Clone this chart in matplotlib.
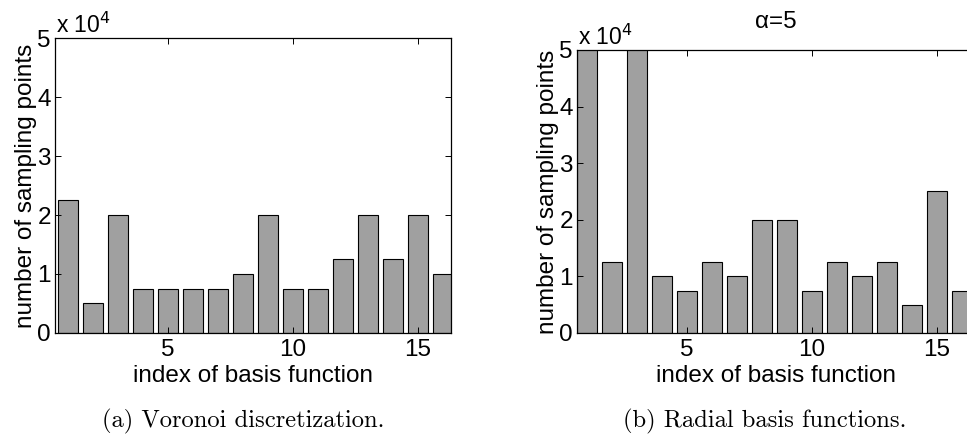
import numpy as np
from matplotlib import pyplot as plt

plt.rcParams['font.family'] = ['Liberation Sans', 'DejaVu Sans']

idx = np.arange(1, 17)
# number of sampling points per basis function
voronoi = np.array([2.25, 0.5, 2.0, 0.75, 0.75, 0.75, 0.75, 1.0,
                    2.0, 0.75, 0.75, 1.25, 2.0, 1.25, 2.0, 1.0]) * 1e4
radial = np.array([6.0, 1.25, 6.0, 1.0, 0.75, 1.25, 1.0, 2.0,
                   2.0, 0.75, 1.25, 1.0, 1.25, 0.5, 2.5, 0.75]) * 1e4

yticks = [0, 1, 2, 3, 4, 5]
xticks = [5, 10, 15]
fs = 17.5
bar_color = '#a0a0a0'

fig = plt.figure(figsize=(9.67, 4.37), dpi=100)


def draw(ax, vals, xlim, xlab_y):
    ax.bar(idx, vals, width=0.8, color=bar_color, edgecolor='black', linewidth=0.8)
    ax.set_xlim(*xlim)
    ax.set_ylim(0, 5e4)
    ax.set_yticks([t * 1e4 for t in yticks])
    ax.set_yticklabels([str(t) for t in yticks])
    ax.set_xticks(xticks)
    ax.tick_params(direction='in', top=True, right=True, labelsize=fs,
                   length=4, width=0.7)
    ax.tick_params(axis='x', pad=4.5)
    ax.tick_params(axis='y', pad=3)
    for s in ax.spines.values():
        s.set_linewidth(0.9)
    ax.set_xlabel('index of basis function', fontsize=fs, va='baseline')
    ax.xaxis.set_label_coords(0.5, xlab_y)
    ax.set_ylabel('number of sampling points', fontsize=fs, labelpad=0)
    ax.annotate(r'x 10$^4$', xy=(0.0, 1.0), xycoords='axes fraction',
                xytext=(1, 3.5), textcoords='offset points',
                fontsize=fs - 1, ha='left', va='baseline')


ax1 = fig.add_axes([0.0569, 0.238, 0.4095, 0.675])
draw(ax1, voronoi, (0.5, 16.33), -0.166)

ax2 = fig.add_axes([0.5967, 0.238, 0.411, 0.6476])
draw(ax2, radial, (0.6, 16.5), -0.173)
ax2.set_title('α=5', fontsize=fs, pad=16)

fig.text(0.2513, 0.021, '(a) Voronoi discretization.', family='cmr10',
         fontsize=17.7, ha='center', va='baseline')
fig.text(0.791, 0.021, '(b) Radial basis functions.', family='cmr10',
         fontsize=17.7, ha='center', va='baseline')

fig.savefig('out.png', dpi=100)
